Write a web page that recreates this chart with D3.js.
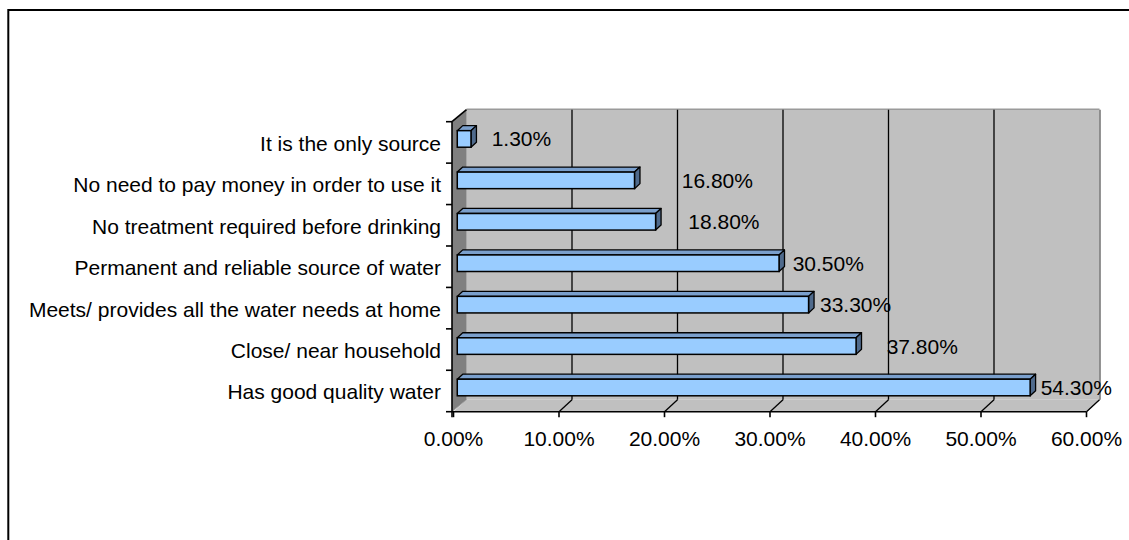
<!DOCTYPE html>
<html>
<head>
<meta charset="utf-8">
<script src="https://cdn.jsdelivr.net/npm/d3@7"></script>
<style>
  html, body { margin: 0; padding: 0; background: #fff; }
  svg { display: block; }
  text { font-family: "Liberation Sans", Arial, sans-serif; fill: #000; }
</style>
</head>
<body>
<svg id="chart" width="1129" height="540"></svg>
<script>
// ---- data ----
const categories = [
  "It is the only source",
  "No need to pay money in order to use it",
  "No treatment required before drinking",
  "Permanent and reliable source of water",
  "Meets/ provides all the water needs at home",
  "Close/ near household",
  "Has good quality water"
];
const values = [0.013, 0.168, 0.188, 0.305, 0.333, 0.378, 0.543];
const xTicks = [0, 0.1, 0.2, 0.3, 0.4, 0.5, 0.6];

// ---- layout (not data) ----
const layout = {
  frontLeft: 453.5, frontRight: 1086.5,
  top: 121.7, bottom: 411.7,
  dx: 13, dy: -12,            // depth offset of the back wall
  barFront: 0.29, barBack: 0.71,
  fontSize: 21,
  labelNudge: [20.7, 47.2, 32.7, 13.6, 11.4, 30.6, 10.5]
};
const colors = {
  barFront: "#99CCFF", barTop: "#7A9FCC", barSide: "#4F6A8C",
  wall: "#C0C0C0", side: "#808080"
};

const svg = d3.select("#chart");
const fmt = d3.format(".2%");

const x = d3.scaleLinear().domain([0, 0.6]).range([layout.frontLeft, layout.frontRight]);
const y = d3.scaleBand().domain(categories).range([layout.top, layout.bottom])
  .paddingInner(0.6).paddingOuter(0.3);
const yBand = d3.scaleBand().domain(categories).range([layout.top, layout.bottom]);

const DX = layout.dx, DY = layout.dy;
const L = layout.frontLeft, R = layout.frontRight, T = layout.top, B = layout.bottom;

// outer frame
svg.append("rect").attr("x", 8.3).attr("y", 10).attr("width", 1200).attr("height", 600)
  .attr("fill", "none").attr("stroke", "#000").attr("stroke-width", 2);

// back wall
svg.append("rect").attr("x", L + DX).attr("y", T + DY).attr("width", R - L).attr("height", B - T)
  .attr("fill", colors.wall).attr("stroke", "none");
svg.append("line").attr("x1", L + DX).attr("x2", R + DX).attr("y1", T + DY - 0.5).attr("y2", T + DY - 0.5)
  .attr("stroke", "#9a9a9a").attr("stroke-width", 1.5);
svg.append("line").attr("x1", R + DX + 0.5).attr("x2", R + DX + 0.5).attr("y1", T + DY).attr("y2", B + DY)
  .attr("stroke", "#707070").attr("stroke-width", 1.5);

// floor
svg.append("path")
  .attr("d", `M${L},${B}L${R},${B}L${R + DX},${B + DY}L${L + DX},${B + DY}Z`)
  .attr("fill", colors.wall).attr("stroke", "none");
svg.append("line").attr("x1", R).attr("y1", B).attr("x2", R + DX).attr("y2", B + DY)
  .attr("stroke", "#808080").attr("stroke-width", 1);

// left wall
svg.append("path")
  .attr("d", `M${L - 1.5},${T}L${L + DX},${T + DY}L${L + DX},${B + DY}L${L - 1.5},${B}Z`)
  .attr("fill", colors.side).attr("stroke", "none");
svg.append("line").attr("x1", L + DX).attr("x2", L + DX).attr("y1", T + DY).attr("y2", B + DY)
  .attr("stroke", "#a8a8a8").attr("stroke-width", 1);
svg.append("line").attr("x1", L - 1.5).attr("y1", B).attr("x2", L + DX).attr("y2", B + DY)
  .attr("stroke", "#a0a0a0").attr("stroke-width", 1);

// gridlines: back wall verticals + floor diagonals
const grid = svg.append("g");
xTicks.slice(1, -1).forEach(t => {
  grid.append("line").attr("x1", x(t) + DX).attr("x2", x(t) + DX)
    .attr("y1", T + DY).attr("y2", B + DY).attr("stroke", "#000").attr("stroke-width", 1.3);
});
xTicks.slice(1).forEach(t => {
  grid.append("line").attr("x1", x(t)).attr("y1", B).attr("x2", x(t) + DX).attr("y2", B + DY)
    .attr("stroke", "#000").attr("stroke-width", 1.3);
});

// axes
const ax = svg.append("g").attr("stroke", "#000").attr("stroke-width", 1.6);
ax.append("line").attr("x1", L - 1.5).attr("x2", L - 1.5).attr("y1", T).attr("y2", B + 5.5);
ax.append("line").attr("x1", L - 1.5).attr("y1", T).attr("x2", L + DX).attr("y2", T + DY);
ax.append("line").attr("x1", L - 1.5).attr("x2", R).attr("y1", B).attr("y2", B);
// y ticks at band boundaries
categories.forEach(c => {
  ax.append("line").attr("x1", L - 7.5).attr("x2", L - 1.5).attr("y1", yBand(c)).attr("y2", yBand(c));
});
ax.append("line").attr("x1", L - 7.5).attr("x2", L - 1.5).attr("y1", B).attr("y2", B);
// x ticks
xTicks.forEach(t => {
  ax.append("line").attr("x1", x(t)).attr("x2", x(t)).attr("y1", B).attr("y2", B + 5.5);
});

// bars
const fx = layout.barFront, bx = layout.barBack;
const bars = svg.append("g").selectAll("g").data(categories).join("g");
bars.each(function (c, i) {
  const g = d3.select(this);
  const v = values[i];
  const x0 = x(0) + fx * DX, x1 = x(v) + fx * DX;
  const y0 = y(c) + fx * DY, y1 = y0 + y.bandwidth();
  const ddx = (bx - fx) * DX, ddy = (bx - fx) * DY;
  // top face
  g.append("path").attr("d", `M${x0},${y0}L${x0 + ddx},${y0 + ddy}L${x1 + ddx},${y0 + ddy}L${x1},${y0}Z`)
    .attr("fill", colors.barTop).attr("stroke", "#000").attr("stroke-width", 1.3).attr("stroke-linejoin", "round");
  // side face
  g.append("path").attr("d", `M${x1},${y0}L${x1 + ddx},${y0 + ddy}L${x1 + ddx},${y1 + ddy}L${x1},${y1}Z`)
    .attr("fill", colors.barSide).attr("stroke", "#000").attr("stroke-width", 1.3).attr("stroke-linejoin", "round");
  // front face
  g.append("rect").attr("x", x0).attr("y", y0).attr("width", x1 - x0).attr("height", y1 - y0)
    .attr("fill", colors.barFront).attr("stroke", "#000").attr("stroke-width", 1.5);
  // value label
  g.append("text").attr("x", x1 + layout.labelNudge[i]).attr("y", (y0 + y1) / 2)
    .attr("dominant-baseline", "central").attr("font-size", layout.fontSize)
    .text(fmt(v));
});

// category labels
svg.append("g").selectAll("text").data(categories).join("text")
  .attr("x", 441).attr("y", c => yBand(c) + yBand.bandwidth() / 2 + 1)
  .attr("text-anchor", "end").attr("dominant-baseline", "central")
  .attr("font-size", layout.fontSize).text(c => c);

// x tick labels
svg.append("g").selectAll("text").data(xTicks).join("text")
  .attr("x", t => x(t)).attr("y", 438.5)
  .attr("text-anchor", "middle").attr("dominant-baseline", "central")
  .attr("font-size", layout.fontSize).text(t => fmt(t));
</script>
</body>
</html>
